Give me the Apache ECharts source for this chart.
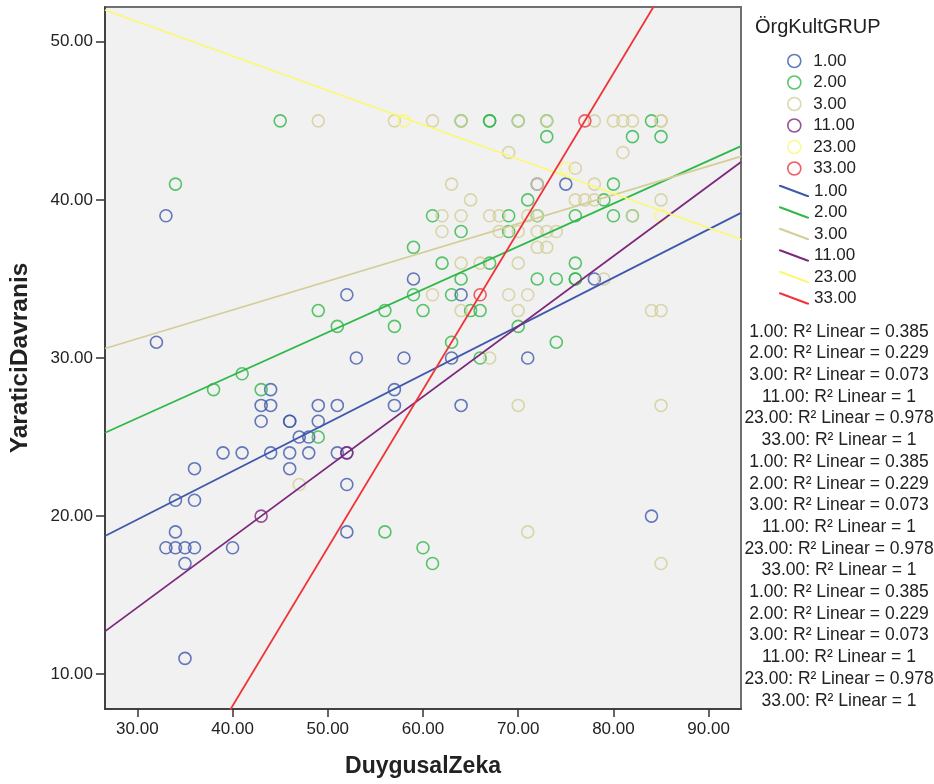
<!DOCTYPE html>
<html>
<head>
<meta charset="utf-8">
<style>
  html, body { margin: 0; padding: 0; background: #fff; }
  #chart { width: 934px; height: 784px; }
</style>
<script src="https://cdn.jsdelivr.net/npm/echarts@6/dist/echarts.min.js"></script>
</head>
<body>
<div id="chart"></div>
<script>
// group names and colours (SPSS palette)
const groups = ['1.00', '2.00', '3.00', '11.00', '23.00', '33.00'];
const colors = ['#3e58ac', '#2eb848', '#d3ce97', '#7c287d', '#fbf873', '#ef3338'];

// points [DuygusalZeka, YaraticiDavranis] per group
const g1 = [[33,39],[32,31],[44,28],[43,27],[44,27],[49,27],[43,26],[46,26],[46,26],[49,26],[47,25],[48,25],
  [39,24],[41,24],[44,24],[46,24],[48,24],[36,23],[46,23],[34,21],[36,21],[34,19],[33,18],[34,18],[35,18],
  [36,18],[40,18],[35,17],[35,11],[59,35],[52,34],[64,34],[53,30],[58,30],[63,30],[71,30],[57,28],[51,27],
  [57,27],[64,27],[51,24],[52,24],[52,22],[52,19],[75,41],[72,41],[78,35],[84,20]];
const g2 = [[45,45],[34,41],[49,33],[41,29],[38,28],[43,28],[49,25],[67,45],[67,45],[64,45],[70,45],[73,45],
  [73,44],[82,44],[85,44],[84,45],[71,40],[61,39],[69,39],[64,38],[69,38],[59,37],[62,36],[67,36],[64,35],
  [59,34],[63,34],[56,33],[60,33],[65,33],[66,33],[51,32],[57,32],[70,32],[63,31],[66,30],[56,19],[60,18],
  [61,17],[76,36],[72,35],[74,35],[76,35],[76,35],[74,31],[80,41],[79,40],[76,39],[80,39],[82,39],[72,39]];
const g3 = [[49,45],[57,45],[61,45],[64,45],[70,45],[73,45],[78,45],[80,45],[81,45],[82,45],[85,45],[85,45],
  [69,43],[81,43],[76,42],[63,41],[72,41],[78,41],[65,40],[76,40],[77,40],[78,40],[85,40],[62,39],[64,39],
  [67,39],[68,39],[71,39],[72,39],[82,39],[62,38],[68,38],[70,38],[72,38],[73,38],[74,38],[72,37],[73,37],
  [64,36],[66,36],[70,36],[79,35],[61,34],[69,34],[71,34],[64,33],[70,33],[84,33],[85,33],[67,30],[70,27],
  [85,27],[47,22],[71,19],[85,17]];
const g11 = [[43,20],[52,24]];
const g23 = [[58,45],[75,42],[85,39]];
const g33 = [[66,34],[77,45]];
const points = [g1, g2, g3, g11, g23, g33];

// linear fit lines: y = intercept + slope * x
const fitSlope = [0.306, 0.2714, 0.182, 0.4444, -0.2173, 1.0];
const fitIntercept = [10.60, 18.05, 25.76, 0.89, 57.79, -32.0];
const r2 = ['0.385', '0.229', '0.073', '1', '0.978', '1'];

const xTicks = [30, 40, 50, 60, 70, 80, 90];
const yTicks = [10, 20, 30, 40, 50];
const xMin = 26.6, xMax = 93.4, yMin = 7.8, yMax = 52.2;

const font = 'Liberation Sans, Arial, sans-serif';

let myChart = echarts.init(document.getElementById('chart'));

const scatterSeries = groups.map((g, i) => ({
  name: g,
  type: 'scatter',
  data: points[i],
  symbol: 'circle',
  symbolSize: 12,
  itemStyle: {
    color: 'rgba(0,0,0,0)',
    borderColor: colors[i],
    borderWidth: 1.6,
    opacity: 0.8
  },
  z: 2
}));

const lineSeries = groups.map((g, i) => ({
  name: 'fit ' + g,
  type: 'line',
  data: [[xMin, fitIntercept[i] + fitSlope[i] * xMin], [xMax, fitIntercept[i] + fitSlope[i] * xMax]],
  showSymbol: false,
  symbol: 'none',
  clip: true,
  lineStyle: { color: colors[i], width: 1.8 },
  itemStyle: { color: colors[i] },
  z: 3
}));

// R² text block, repeated three times as in the reference
let r2Lines = [];
for (let k = 0; k < 3; k++) {
  groups.forEach((g, i) => r2Lines.push(g + ': R\u00b2 Linear = ' + r2[i]));
}

const option = {
  animation: false,
  backgroundColor: '#ffffff',
  grid: {
    left: 104,
    right: 193,
    top: 7,
    bottom: 75,
    show: true,
    backgroundColor: '#f1f1f1',
    borderColor: '#707070',
    borderWidth: 2
  },
  xAxis: {
    type: 'value',
    min: xMin,
    max: xMax,
    name: 'DuygusalZeka',
    nameLocation: 'middle',
    nameGap: 46,
    nameTextStyle: { fontFamily: font, fontSize: 23, fontWeight: 'bold', color: '#222' },
    axisLine: { show: true, lineStyle: { color: '#333', width: 1.5 } },
    axisTick: { show: true, length: 8, customValues: xTicks, lineStyle: { color: '#333', width: 1.5 } },
    axisLabel: {
      customValues: xTicks,
      margin: 12,
      fontFamily: font,
      fontSize: 17,
      color: '#222',
      formatter: v => v.toFixed(2)
    },
    splitLine: { show: false }
  },
  yAxis: {
    type: 'value',
    min: yMin,
    max: yMax,
    name: 'YaraticiDavranis',
    nameLocation: 'middle',
    nameGap: 72,
    nameRotate: 90,
    nameTextStyle: { fontFamily: font, fontSize: 24.5, fontWeight: 'bold', color: '#222' },
    axisLine: { show: true, lineStyle: { color: '#333', width: 1.5 } },
    axisTick: { show: true, length: 9, customValues: yTicks, lineStyle: { color: '#333', width: 1.5 } },
    axisLabel: {
      customValues: yTicks,
      margin: 12,
      fontFamily: font,
      fontSize: 17,
      color: '#222',
      formatter: v => v.toFixed(2)
    },
    splitLine: { show: false }
  },
  legend: [
    {
      orient: 'vertical',
      left: 787,
      top: 52.5,
      padding: 0,
      itemWidth: 28,
      itemHeight: 13,
      itemGap: 4.5,
      selectedMode: false,
      textStyle: { fontFamily: font, fontSize: 17, color: '#222' },
      data: groups.map((g, i) => ({
        name: g,
        icon: 'circle',
        itemStyle: { color: 'rgba(0,0,0,0)', borderColor: colors[i], borderWidth: 1.6 }
      }))
    },
    {
      orient: 'vertical',
      left: 779,
      top: 182.5,
      padding: 0,
      itemWidth: 30,
      itemHeight: 12,
      itemGap: 4.5,
      selectedMode: false,
      textStyle: { fontFamily: font, fontSize: 17, color: '#222' },
      formatter: name => name.replace('fit ', ''),
      data: groups.map((g, i) => ({
        name: 'fit ' + g,
        icon: 'path://M0,0 L2,0 L30,10.5 L30,12 L28,12 L0,1.5 Z',
        itemStyle: { color: colors[i] }
      }))
    }
  ],
  graphic: [
    {
      type: 'text',
      x: 755,
      y: 17,
      style: { text: '\u00d6rgKultGRUP', font: '20px ' + font, fill: '#222' }
    },
    {
      type: 'text',
      x: 839,
      y: 321,
      style: {
        text: r2Lines.join('\n'),
        font: '17.5px ' + font,
        fill: '#222',
        align: 'center',
        lineHeight: 21.7
      }
    }
  ],
  series: scatterSeries.concat(lineSeries)
};

myChart.setOption(option);
</script>
</body>
</html>
